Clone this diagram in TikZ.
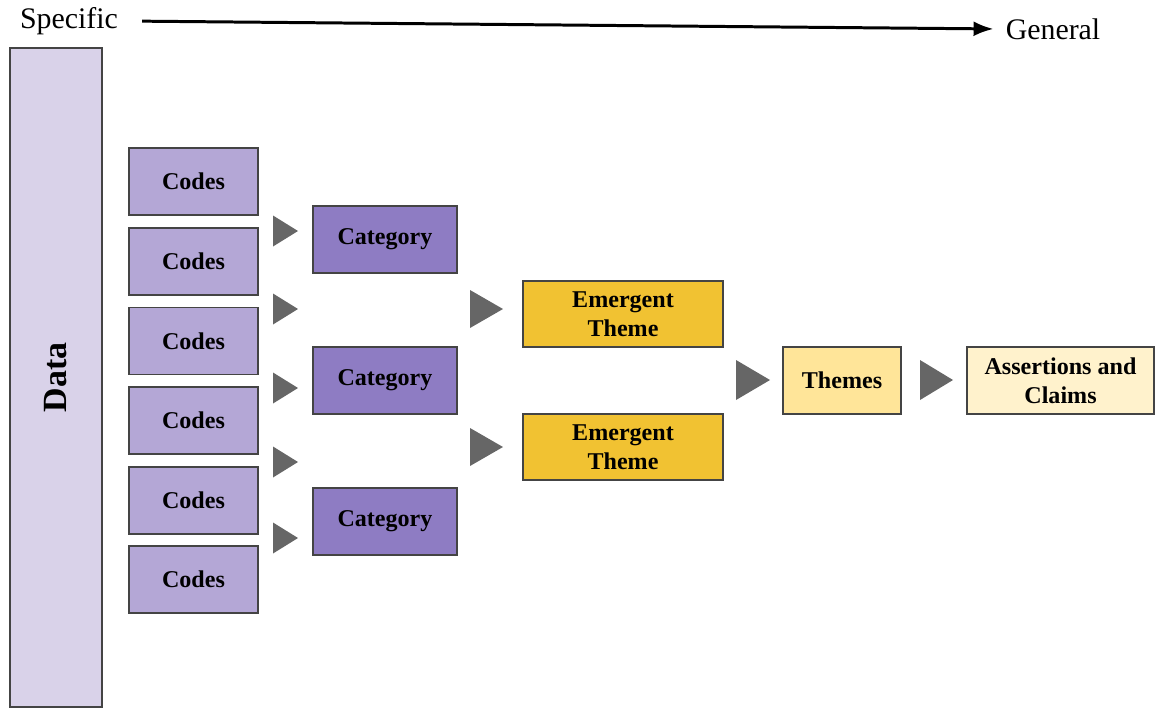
\documentclass[tikz,border=0pt]{standalone}
\usepackage{fontspec}
\setmainfont{Liberation Serif}
\usepackage{tikz}
\usetikzlibrary{arrows.meta}

\definecolor{datafill}{HTML}{D9D2E9}
\definecolor{codefill}{HTML}{B4A7D6}
\definecolor{catfill}{HTML}{8E7CC3}
\definecolor{emfill}{HTML}{F1C232}
\definecolor{themefill}{HTML}{FFE599}
\definecolor{claimfill}{HTML}{FFF2CC}
\definecolor{edgegray}{HTML}{444444}
\definecolor{trigray}{HTML}{666666}

\begin{document}
\begin{tikzpicture}[x=0.02cm, y=-0.02cm,
  box/.style={draw=edgegray, line width=0.8pt, inner sep=0pt, align=center,
    font=\fontsize{13.7}{16.4}\selectfont\bfseries, minimum height=1.34cm},
  codebox/.style={box, fill=codefill, minimum width=2.58cm},
  catbox/.style={box, fill=catfill, minimum width=2.88cm},
  embox/.style={box, fill=emfill, minimum width=4.0cm, minimum height=1.32cm},
  tri/.style={fill=trigray}]

  \useasboundingbox (0,0) rectangle (1165,710);

  % Specific -> General axis
  \node[font=\fontsize{17}{20}\selectfont] (spec) at (69,21) {Specific};
  \node[font=\fontsize{17}{20}\selectfont] (gen) at (1053,29) {General};
  \draw[line width=1.7pt, -{Latex[length=0.4cm, width=0.3cm]},
    shorten <=0.36cm, shorten >=0.12cm] (spec.east) -- (gen.west);

  % Data bar
  \node[box, fill=datafill, minimum width=1.84cm, minimum height=13.18cm] (data) at (56,377.5) {};
  \node[rotate=90, font=\fontsize{19.3}{22}\selectfont\bfseries] at (data) {Data};

  % Codes column
  \node[codebox] (code1) at (193.5,181.5) {Codes};
  \node[codebox] (code2) at (193.5,261.5) {Codes};
  \node[codebox] (code3) at (193.5,341) {Codes};
  \node[codebox] (code4) at (193.5,420.5) {Codes};
  \node[codebox] (code5) at (193.5,500.5) {Codes};
  \node[codebox] (code6) at (193.5,579.5) {Codes};

  % small pointers
  \foreach \y in {231,309,388,462,538}
    \fill[tri] (273,\y-15.5) -- (298,\y) -- (273,\y+15.5) -- cycle;

  % Categories
  \node[catbox] (cat1) at (385,239.5) {Category};
  \node[catbox] (cat2) at (385,380.5) {Category};
  \node[catbox] (cat3) at (385,521.5) {Category};

  % pointers to themes
  \foreach \y in {309,447}
    \fill[tri] (470,\y-19) -- (503,\y) -- (470,\y+19) -- cycle;

  % Emergent themes
  \node[embox] (em1) at (623,314) {Emergent\\Theme};
  \node[embox] (em2) at (623,447) {Emergent\\Theme};

  \fill[tri] (736,360) -- (770,380) -- (736,400) -- cycle;

  % Themes
  \node[box, fill=themefill, minimum width=2.36cm] (themes) at (842,380.5) {Themes};

  \fill[tri] (920,360) -- (953,380) -- (920,400) -- cycle;

  % Assertions and claims
  \node[box, fill=claimfill, minimum width=3.74cm] (claims) at (1060.5,380.5) {Assertions and\\Claims};

\end{tikzpicture}
\end{document}
